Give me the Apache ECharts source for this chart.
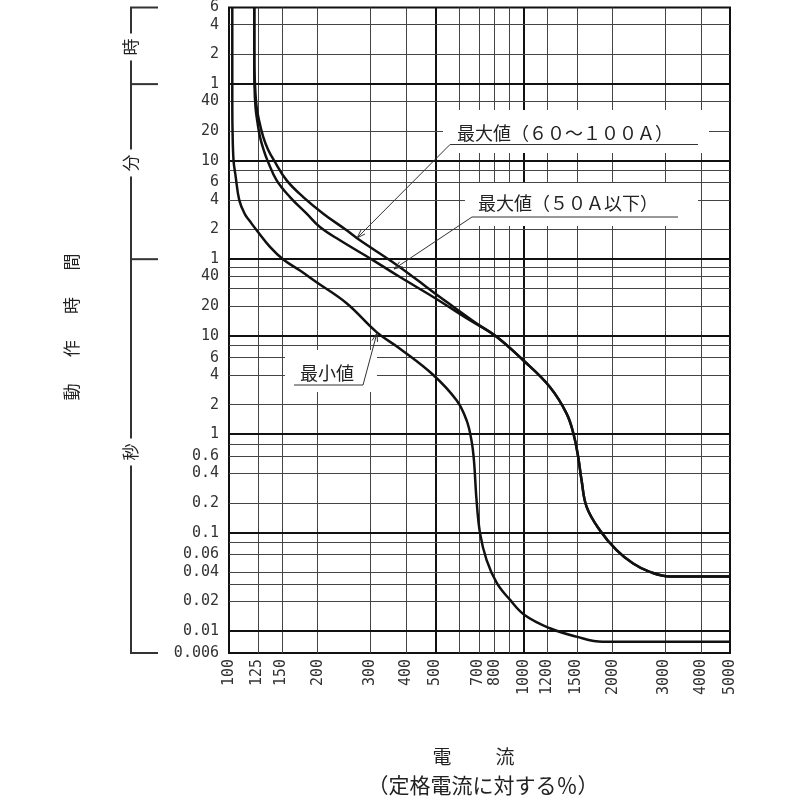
<!DOCTYPE html>
<html lang="ja">
<head>
<meta charset="utf-8">
<title>動作時間 - 電流特性</title>
<script src="https://cdn.jsdelivr.net/npm/echarts@6.0.0/dist/echarts.min.js"></script>
<style>
    html, body { margin: 0; padding: 0; background: #fff; }
    #main { width: 800px; height: 800px; }
</style>
</head>
<body>
<div id="main"></div>
<script type="text/javascript">
    // 電流は定格電流に対する%、動作時間は秒
    var minCurrent = [102.6, 102.6, 102.8, 103.6, 105.2, 108.4, 113.3, 117.8, 124.1, 137.7, 152.4, 174.1, 198.2, 250.5, 316.6, 380, 493, 592, 639, 664, 677, 691, 710, 747, 809, 895, 1008, 1225, 1506, 1850, 2500, 5000];
    var minTime = [21600, 2460, 1220, 605, 426, 237.5, 171.2, 145.4, 118, 80, 60, 46, 35, 21.4, 10.9, 7.4, 4.0, 2.2, 1.39, 0.87, 0.545, 0.214, 0.099, 0.053, 0.031, 0.021, 0.0145, 0.0107, 0.0088, 0.0078, 0.0078, 0.0078];

    var max50Current = [121.8, 121.8, 122, 123, 124.9, 127.4, 130.9, 135, 145.1, 161, 183.4, 203.4, 237.8, 308.5, 380, 492.6, 656, 800];
    var max50Time = [21600, 6270, 3575, 2104, 1471, 1043, 782, 605, 379, 256.5, 174, 127.2, 93.3, 58.4, 39.5, 24.8, 14.4, 10];

    var max100Current = [121.8, 121.8, 122.5, 124.1, 126.9, 130.7, 135.6, 142.1, 156.9, 178.6, 208.8, 250.6, 278, 351.4, 421.5, 519, 682, 800];
    var max100Time = [21600, 6270, 3575, 2104, 1471, 1043, 782, 605, 379, 256.5, 174, 117.8, 93.3, 58.4, 39.5, 24.8, 13.7, 10];

    // 800% 以降は両方の最大値曲線が重なる
    var maxTailCurrent = [995, 1225, 1396, 1477, 1528, 1569, 1632, 1810, 2062, 2347, 2673, 3126, 3800, 5000];
    var maxTailTime = [5.64, 3.02, 1.62, 0.977, 0.588, 0.341, 0.183, 0.106, 0.0665, 0.0487, 0.040, 0.0359, 0.0359, 0.0359];

    var xGridValues = [125, 150, 200, 300, 400, 500, 600, 700, 800, 900, 1000, 1200, 1500, 2000, 3000, 4000];
    var xMajorValues = [500, 1000];
    var xLabelValues = [100, 125, 150, 200, 300, 400, 500, 700, 800, 1000, 1200, 1500, 2000, 3000, 4000, 5000];

    var yGridValues = [0.01, 0.02, 0.03, 0.04, 0.06, 0.08, 0.1, 0.2, 0.4, 0.6, 0.8, 1, 2, 4, 6, 8, 10, 20, 30, 40, 50, 60, 120, 240, 360, 480, 600, 1200, 2400, 3600, 7200, 14400];
    var yMajorValues = [0.01, 0.1, 1, 10, 60, 600, 3600];
    var yLabelValues = [0.006, 0.01, 0.02, 0.04, 0.06, 0.1, 0.2, 0.4, 0.6, 1, 2, 4, 6, 10, 20, 40, 60, 120, 240, 360, 600, 1200, 2400, 3600, 7200, 14400, 21600];
    var yLabelText = ['0.006', '0.01', '0.02', '0.04', '0.06', '0.1', '0.2', '0.4', '0.6', '1', '2', '4', '6', '10', '20', '40', '1', '2', '4', '6', '10', '20', '40', '1', '2', '4', '6'];

    var xMin = 100, xMax = 5000, yMin = 0.006, yMax = 21600;

    function lg(v) { return Math.log10(v); }

    function toPoints(cur, time) {
        var pts = [];
        for (var i = 0; i < cur.length; i++) {
            pts.push([lg(cur[i]), lg(time[i])]);
        }
        return pts;
    }

    function findLabel(values, texts, v) {
        for (var i = 0; i < values.length; i++) {
            if (Math.abs(lg(values[i]) - v) < 1e-6) return texts ? texts[i] : String(values[i]);
        }
        return '';
    }

    var gridLines = [];
    for (var i = 0; i < xGridValues.length; i++) {
        var xm = xMajorValues.indexOf(xGridValues[i]) >= 0;
        gridLines.push({xAxis: lg(xGridValues[i]), lineStyle: {width: xm ? 2 : 1, color: xm ? '#111' : '#444'}});
    }
    for (var j = 0; j < yGridValues.length; j++) {
        var ym = yMajorValues.indexOf(yGridValues[j]) >= 0;
        gridLines.push({yAxis: lg(yGridValues[j]), lineStyle: {width: ym ? 2 : 1, color: ym ? '#111' : '#444'}});
    }

    var curveStyle = {color: '#111', width: 2.5};

    function curve(name, cur, time) {
        return {
            name: name,
            type: 'line',
            z: 5,
            symbol: 'none',
            smooth: 0.4,
            lineStyle: curveStyle,
            data: toPoints(cur, time)
        };
    }

    var chart = echarts.init(document.getElementById('main'));
    chart.setOption({
        animation: false,
        backgroundColor: '#fff',
        grid: {left: 229, right: 70, top: 7, bottom: 147, show: true, borderColor: '#111', borderWidth: 2},
        xAxis: {
            type: 'value',
            min: lg(xMin),
            max: lg(xMax),
            axisLine: {show: false},
            axisTick: {show: false},
            splitLine: {show: false},
            axisLabel: {
                customValues: xLabelValues.map(lg),
                rotate: 90,
                margin: 6,
                fontFamily: 'DejaVu Sans Mono',
                fontSize: 15,
                color: '#333',
                formatter: function (v) { return findLabel(xLabelValues, null, v); }
            }
        },
        yAxis: {
            type: 'value',
            min: lg(yMin),
            max: lg(yMax),
            axisLine: {show: false},
            axisTick: {show: false},
            splitLine: {show: false},
            axisLabel: {
                customValues: yLabelValues.map(lg),
                margin: 10,
                fontFamily: 'DejaVu Sans Mono',
                fontSize: 15,
                color: '#333',
                formatter: function (v) { return findLabel(yLabelValues, yLabelText, v); }
            }
        },
        series: [
            {
                name: 'grid',
                type: 'line',
                data: [],
                z: 1,
                silent: true,
                markLine: {
                    silent: true,
                    symbol: ['none', 'none'],
                    label: {show: false},
                    emphasis: {disabled: true},
                    lineStyle: {type: 'solid'},
                    data: gridLines
                }
            },
            curve('最小値', minCurrent, minTime),
            curve('最大値（50A以下）', max50Current.concat(maxTailCurrent), max50Time.concat(maxTailTime)),
            curve('最大値（60～100A）', max100Current.concat(maxTailCurrent), max100Time.concat(maxTailTime))
        ]
    });

    // 注記・単位の括弧などの飾り
    var cjk = 'Noto Sans CJK JP';
    var ink = '#333';

    function seg(x0, y0, x1, y1, w) {
        return {type: 'line', z: 101, shape: {x1: x0, y1: y0, x2: x1, y2: y1}, style: {stroke: ink, lineWidth: w || 1}};
    }

    function arrowHead(x0, y0, x1, y1) {
        var ang = Math.atan2(y1 - y0, x1 - x0);
        var len = 9, spread = 0.32;
        return {
            type: 'polyline', z: 101,
            shape: {points: [
                [x1 - len * Math.cos(ang - spread), y1 - len * Math.sin(ang - spread)],
                [x1, y1],
                [x1 - len * Math.cos(ang + spread), y1 - len * Math.sin(ang + spread)]
            ]},
            style: {stroke: ink, lineWidth: 1, fill: null}
        };
    }

    function whiteBox(x, y, w, h) {
        return {type: 'rect', z: 100, shape: {x: x, y: y, width: w, height: h}, style: {fill: '#fff'}};
    }

    function label(txt, x, y, size, align, rot) {
        return {
            type: 'text', z: 102, x: x, y: y, rotation: rot || 0,
            style: {text: txt, fontFamily: cjk, fontSize: size, fill: '#222', align: align || 'left', verticalAlign: 'middle'}
        };
    }

    var g = [];
    // 最大値（60～100A）
    g.push(whiteBox(443, 110, 266, 43));
    g.push(label('最大値（６０～１００Ａ）', 457, 133, 18));
    g.push(seg(450, 144.5, 698, 144.5));
    g.push(seg(450, 144.5, 357, 238));
    g.push(arrowHead(450, 144.5, 357, 238));
    // 最大値（50A以下）
    g.push(whiteBox(465, 183, 233, 43));
    g.push(label('最大値（５０Ａ以下）', 478, 203, 18));
    g.push(seg(472, 217, 678, 217));
    g.push(seg(472, 217, 394, 269));
    g.push(arrowHead(472, 217, 394, 269));
    // 最小値
    g.push(whiteBox(285, 350, 92, 42));
    g.push(label('最小値', 300, 373, 18));
    g.push(seg(294, 385, 363, 385));
    g.push(seg(363, 385, 377, 333));
    g.push(arrowHead(363, 385, 377, 333));

    // 左側の 時・分・秒 の括弧
    var bx = 131, tickEnd = 158;
    var bTop = chart.convertToPixel({yAxisIndex: 0}, lg(yMax));
    var bHour = chart.convertToPixel({yAxisIndex: 0}, lg(3600));
    var bMin = chart.convertToPixel({yAxisIndex: 0}, lg(60));
    var bBot = chart.convertToPixel({yAxisIndex: 0}, lg(yMin));
    g.push(seg(bx, bTop, bx, bBot, 2));
    [bTop, bHour, bMin, bBot].forEach(function (py) {
        g.push(seg(bx - 1, py, tickEnd, py, 2));
    });
    [['時', 47], ['分', 163], ['秒', 452]].forEach(function (u) {
        g.push({
            type: 'text', z: 102, x: bx, y: u[1], rotation: Math.PI / 2,
            style: {text: u[0], fontFamily: cjk, fontSize: 17, fill: '#222', align: 'center', verticalAlign: 'middle',
                backgroundColor: '#fff', padding: [0, 5]}
        });
    });

    // 縦軸名
    ['動', '作', '時', '間'].forEach(function (ch, k) {
        g.push(label(ch, 72, 392 - k * 43.3, 17, 'center', Math.PI / 2));
    });

    // 横軸名
    g.push(label('電', 442, 757, 19, 'center'));
    g.push(label('流', 505, 757, 19, 'center'));
    g.push(label('（定格電流に対する％）', 483, 785, 21, 'center'));

    chart.setOption({graphic: g});
</script>
</body>
</html>
